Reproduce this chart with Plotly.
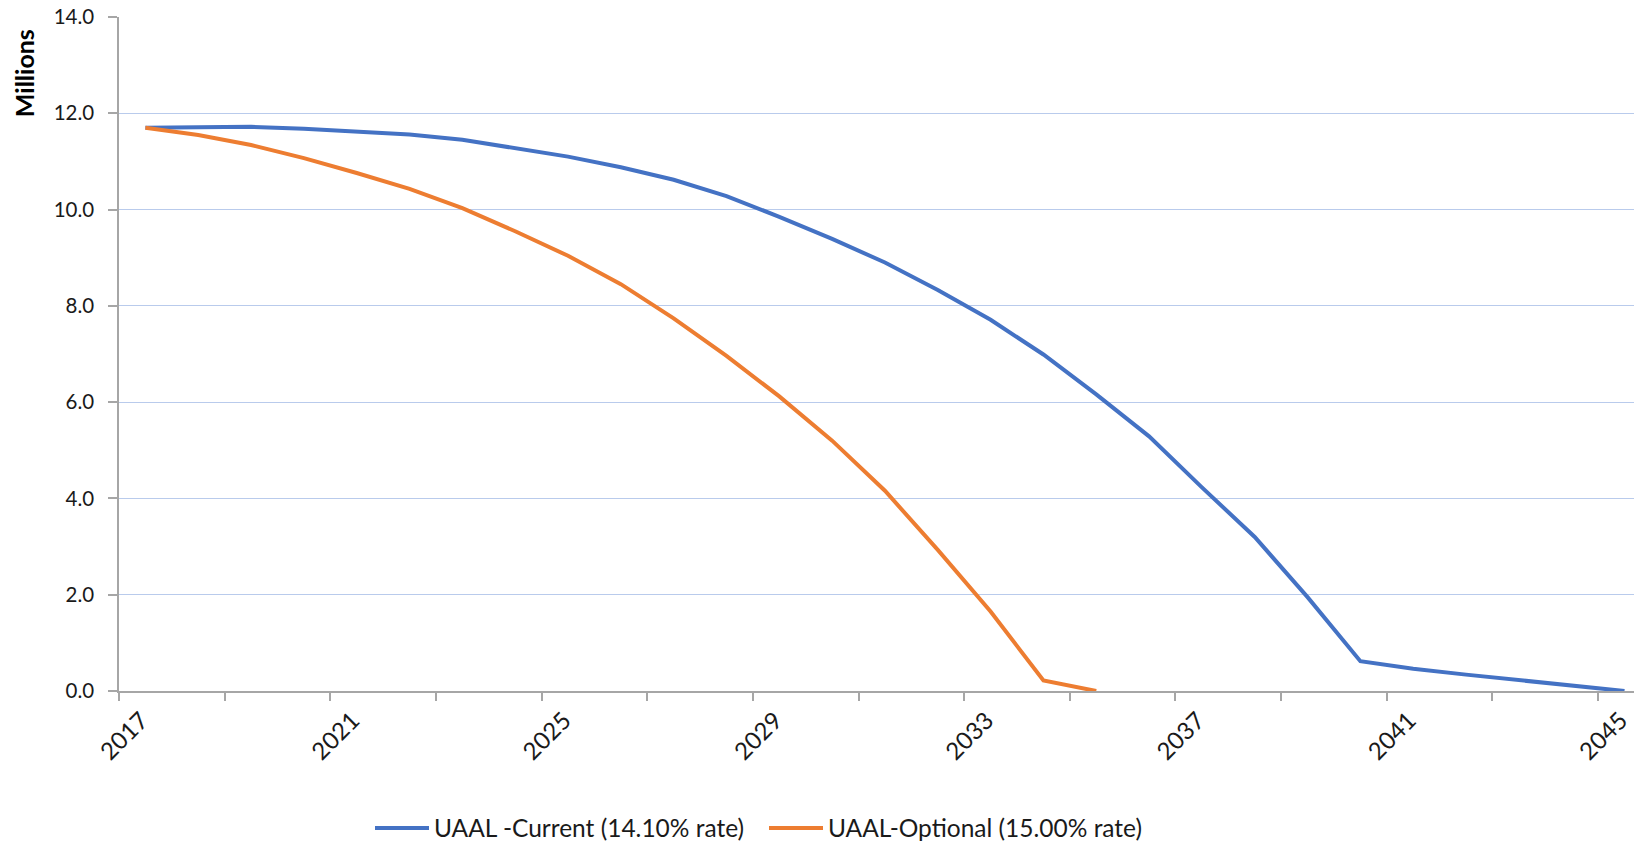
import plotly.graph_objects as go

# Unfunded actuarial accrued liability projections (millions)
years_current = list(range(2017, 2046))
uaal_current = [11.70, 11.72, 11.72, 11.68, 11.63, 11.56, 11.45, 11.28, 11.10, 10.88,
                10.62, 10.28, 9.85, 9.39, 8.90, 8.33, 7.71, 6.99, 6.16, 5.29,
                4.23, 3.20, 1.95, 0.62, 0.46, 0.34, 0.22, 0.10, 0.00]

years_optional = list(range(2017, 2036))
uaal_optional = [11.70, 11.55, 11.34, 11.07, 10.76, 10.43, 10.03, 9.55, 9.04, 8.45,
                 7.74, 6.96, 6.12, 5.20, 4.16, 2.93, 1.65, 0.22, 0.00]

label_years = list(range(2017, 2046, 4))
boundary_ticks = [y - 0.5 for y in range(2017, 2046, 2)]
y_ticks = [0, 2, 4, 6, 8, 10, 12, 14]

FONT = "Lato, 'Open Sans', sans-serif"
AXIS_GREY = "#A6A6A6"
GRID = "#B9CBEC"

fig = go.Figure()
fig.add_trace(go.Scatter(
    x=years_current, y=uaal_current, mode="lines",
    name="UAAL -Current (14.10% rate)",
    line=dict(color="#4472C4", width=4),
))
fig.add_trace(go.Scatter(
    x=years_optional, y=uaal_optional, mode="lines",
    name="UAAL-Optional (15.00% rate)",
    line=dict(color="#ED7D31", width=4),
))

fig.update_layout(
    width=1634, height=842,
    margin=dict(l=119, r=0, t=17, b=151, autoexpand=False),
    paper_bgcolor="white", plot_bgcolor="white",
    font=dict(family=FONT, size=23, color="#1A1A1A"),
    showlegend=True,
    legend=dict(
        orientation="h", xref="container", yref="container",
        x=370 / 1634, xanchor="left", y=1 - 828 / 842, yanchor="middle",
        font=dict(size=24.5), bgcolor="rgba(0,0,0,0)",
        itemwidth=54, entrywidth=325, entrywidthmode="pixels",
    ),
    annotations=[dict(
        text="<b>Millions</b>", textangle=-90,
        xref="paper", yref="paper", x=-0.063, y=0.916,
        xanchor="center", yanchor="middle", showarrow=False,
        font=dict(size=25, color="#000000"),
    )],
)

fig.update_xaxes(
    range=[2016.5, 2045.18], automargin=False,
    tickmode="array", tickvals=label_years, ticktext=[str(y) for y in label_years],
    tickangle=-45, ticks="outside", ticklen=0, tickcolor="white",
    ticklabeloverflow="allow", ticklabelshift=-4, ticklabelstandoff=4,
    showgrid=False, zeroline=False,
    showline=True, linecolor=AXIS_GREY, linewidth=1.5,
    tickfont=dict(size=24),
    minor=dict(tickmode="array", tickvals=boundary_ticks, ticks="outside",
               ticklen=8, tickcolor=AXIS_GREY, tickwidth=1.5, showgrid=False),
)

fig.update_yaxes(
    range=[0, 14], automargin=False,
    tickmode="array", tickvals=y_ticks, tickformat=".1f",
    ticks="outside", ticklen=9, tickcolor=AXIS_GREY, tickwidth=1.5,
    showgrid=True, gridcolor=GRID, gridwidth=1.2,
    zeroline=False,
    showline=True, linecolor=AXIS_GREY, linewidth=1.5,
    tickfont=dict(size=20.5),
    ticklabelstandoff=10,
)

fig.write_html("out.html")
